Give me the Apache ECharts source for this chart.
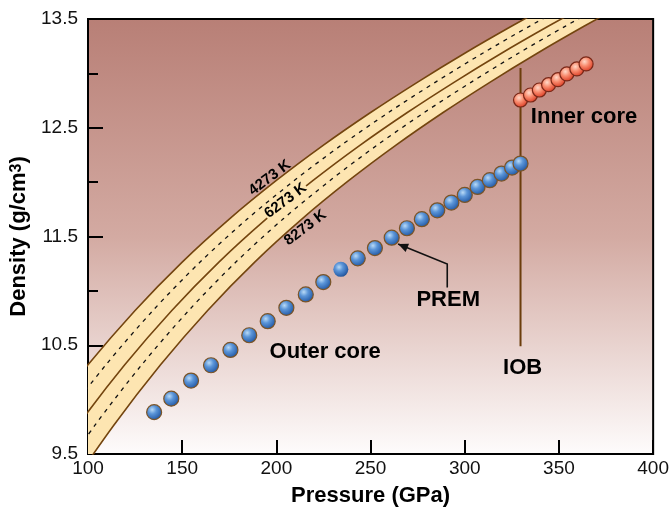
<!DOCTYPE html>
<html><head><meta charset="utf-8">
<script src="https://cdn.jsdelivr.net/npm/echarts@6/dist/echarts.min.js"></script>
<style>html,body{margin:0;padding:0;background:#fff}#c{width:672px;height:514px}</style>
</head><body><div id="c"></div>
<script>
// Density values shared by the temperature curves (g/cm3)
const curveDensity = [9.14, 9.76, 10.32, 10.82, 11.265, 11.66, 12.015, 12.34, 12.64, 12.92, 13.185, 13.435, 13.675];
// Pressure (GPa) at which each curve reaches those densities
const p4273 = [50, 75, 100, 125, 150, 175, 200, 225, 250, 275, 300, 325, 350];
const p5273 = [59.5, 84.5, 109.5, 134.5, 159.5, 184.5, 209.5, 234.5, 259.5, 284.5, 309.5, 334.5, 359.5];
const p6273 = [69.5, 94.5, 119.5, 144.5, 169.5, 194.5, 219.5, 244.5, 269.5, 294.5, 319.5, 344.5, 369.5];
const p7273 = [78.5, 103.5, 128.5, 153.5, 178.5, 203.5, 228.5, 253.5, 278.5, 303.5, 328.5, 353.5, 378.5];
const p8273 = [88.5, 113.5, 138.5, 163.5, 188.5, 213.5, 238.5, 263.5, 288.5, 313.5, 338.5, 363.5, 388.5];
// PREM outer core
const outerP = [135.1, 144.2, 154.7, 165.3, 175.6, 185.6, 195.4, 205.3, 215.6, 224.9, 234.2, 243.2, 252.3, 261.2, 269.3, 277.2, 285.4, 292.9, 300.0, 306.8, 313.3, 319.5, 325.1, 329.6];
const outerD = [9.885, 10.009, 10.175, 10.316, 10.457, 10.592, 10.721, 10.844, 10.967, 11.081, 11.198, 11.299, 11.394, 11.489, 11.576, 11.659, 11.741, 11.812, 11.882, 11.956, 12.018, 12.079, 12.134, 12.171];
// PREM inner core
const innerP = [329.6, 334.9, 339.6, 344.5, 349.5, 354.2, 359.5, 364.4];
const innerD = [12.755, 12.801, 12.847, 12.896, 12.942, 12.995, 13.041, 13.087];
// Inner-outer core boundary
const iobP = [329.6, 329.6];
const iobD = [13.05, 10.49];
// Axis ranges
const xRange = [100, 400, 50];
const yRange = [9.5, 13.5, 1];

const FONT = 'Liberation Sans, Arial, sans-serif';
const pairs = (xs, ys) => xs.map((x, i) => [x, Array.isArray(ys) ? ys[i] : ys]);

const chart = echarts.init(document.getElementById('c'), null, {renderer: 'canvas'});

const lineSeries = (xs, dashed) => ({
  type: 'line', data: pairs(xs, curveDensity), showSymbol: false, silent: true, clip: true, z: 3, smooth: 0.3,
  lineStyle: dashed ? {color: '#111', width: 1.3, type: [4, 5]} : {color: '#74450f', width: 1.6}
});

const blueFill = {type: 'radial', x: 0.38, y: 0.35, r: 0.75, colorStops: [
  {offset: 0, color: '#b9daf6'}, {offset: 0.35, color: '#5b95d8'}, {offset: 0.75, color: '#2f66b0'}, {offset: 1, color: '#1c4783'}]};
const redFill = {type: 'radial', x: 0.4, y: 0.35, r: 0.75, colorStops: [
  {offset: 0, color: '#ffd9c8'}, {offset: 0.4, color: '#f88a6d'}, {offset: 0.8, color: '#e0482f'}, {offset: 1, color: '#c23520'}]};

// the one borderless outer-core marker in the original
const outerData = pairs(outerP, outerD).map((d, i) => i === 10 ? {value: d, itemStyle: {borderWidth: 0}} : d);

chart.setOption({
  animation: false,
  grid: {left: 88, right: 16, top: 19, bottom: 60, show: true, borderColor: '#000', borderWidth: 2,
    backgroundColor: {type: 'linear', x: 0, y: 0, x2: 0, y2: 1, colorStops: [
      {offset: 0, color: '#b87f76'}, {offset: 0.5, color: '#d3aaa2'}, {offset: 1, color: '#fefcfc'}]}},
  xAxis: {
    type: 'value', min: xRange[0], max: xRange[1], interval: xRange[2],
    name: 'Pressure (GPa)', nameLocation: 'middle', nameGap: 31,
    nameTextStyle: {fontFamily: FONT, fontSize: 22, fontWeight: 'bold', color: '#000'},
    axisLine: {show: true, lineStyle: {color: '#000', width: 2}},
    axisTick: {show: true, inside: true, length: 14, lineStyle: {color: '#000', width: 2}},
    axisLabel: {fontFamily: FONT, fontSize: 19, color: '#111', margin: 5},
    splitLine: {show: false}
  },
  yAxis: {
    type: 'value', min: yRange[0], max: yRange[1], interval: yRange[2],
    name: '{a|Density (g/cm}{b|3}{a|)}', nameLocation: 'middle', nameGap: 55,
    nameTextStyle: {rich: {
      a: {fontFamily: FONT, fontSize: 22, fontWeight: 'bold', color: '#000'},
      b: {fontFamily: FONT, fontSize: 16, fontWeight: 'bold', color: '#000', verticalAlign: 'top'}}},
    axisLine: {show: true, lineStyle: {color: '#000', width: 2}},
    axisTick: {show: true, inside: true, length: 15, lineStyle: {color: '#000', width: 2}},
    minorTick: {show: true, splitNumber: 2, length: 10, lineStyle: {color: '#000', width: 2}},
    axisLabel: {fontFamily: FONT, fontSize: 19, color: '#111', margin: 10, formatter: v => v.toFixed(1)},
    splitLine: {show: false}, minorSplitLine: {show: false}
  },
  series: [
    {
      type: 'custom', clip: true, silent: true, z: 2, data: [0],
      renderItem: function (params, api) {
        const pts = [];
        for (let i = 0; i < p4273.length; i++) pts.push(api.coord([p4273[i], curveDensity[i]]));
        for (let i = p8273.length - 1; i >= 0; i--) pts.push(api.coord([p8273[i], curveDensity[i]]));
        return {type: 'polygon', shape: {points: pts}, style: {fill: '#fde5b1'}};
      }
    },
    lineSeries(p4273, false),
    lineSeries(p5273, true),
    lineSeries(p6273, false),
    lineSeries(p7273, true),
    lineSeries(p8273, false),
    {type: 'line', data: pairs(iobP, iobD), showSymbol: false, silent: true, z: 4,
      lineStyle: {color: '#6b3d0c', width: 2}},
    {type: 'scatter', data: outerData, symbol: 'circle', symbolSize: 15, z: 5,
      itemStyle: {color: blueFill, borderColor: '#7b5427', borderWidth: 1.2, opacity: 1}},
    {type: 'scatter', data: pairs(innerP, innerD), symbol: 'circle', symbolSize: 14, z: 5,
      itemStyle: {color: redFill, borderColor: '#7a2818', borderWidth: 1.2, opacity: 1}}
  ]
});

// Annotations placed in data coordinates
const notes = [
  {t: 'Inner core', p: [363.3, 12.60], size: 22},
  {t: 'Outer core', p: [225.9, 10.44], size: 22},
  {t: 'PREM', p: [291.2, 10.92], size: 22},
  {t: 'IOB', p: [330.7, 10.29], size: 22}
];
const tempLabels = [
  {t: '4273 K', p: [196.5, 12.04], bg: null},
  {t: '6273 K', p: [204.9, 11.83], bg: '#fde5b1'},
  {t: '8273 K', p: [215.4, 11.58], bg: null}
];
const arrowPts = [[290.7, 11.03], [290.7, 11.247], [264.6, 11.43]];

const px = d => chart.convertToPixel({gridIndex: 0}, d);
const graphics = [];
notes.forEach(n => {
  const q = px(n.p);
  graphics.push({type: 'text', x: q[0], y: q[1], z: 20,
    style: {text: n.t, fill: '#000', font: 'bold ' + n.size + 'px ' + FONT, textAlign: 'center', textVerticalAlign: 'middle'}});
});
tempLabels.forEach(n => {
  const q = px(n.p);
  const st = {text: n.t, fill: '#000', font: 'bold 15px ' + FONT, textAlign: 'center', textVerticalAlign: 'middle'};
  if (n.bg) { st.backgroundColor = n.bg; st.padding = [0, 1]; }
  graphics.push({type: 'text', x: q[0], y: q[1], rotation: 37 * Math.PI / 180, z: 20, style: st});
});
const ap = arrowPts.map(px);
graphics.push({type: 'polyline', z: 20, shape: {points: ap}, style: {stroke: '#111', lineWidth: 1.6, fill: null}});
(function () {
  const a = ap[1], b = ap[2];
  const dx = b[0] - a[0], dy = b[1] - a[1], L = Math.hypot(dx, dy);
  const ux = dx / L, uy = dy / L, len = 10, w = 4.5;
  const bx = b[0] - ux * len, by = b[1] - uy * len;
  graphics.push({type: 'polygon', z: 21, shape: {points: [b, [bx - uy * w, by + ux * w], [bx + uy * w, by - ux * w]]}, style: {fill: '#111'}});
})();
chart.setOption({graphic: graphics});
</script>
</body></html>
